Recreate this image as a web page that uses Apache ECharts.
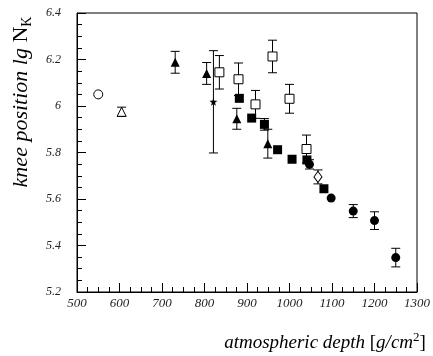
<!DOCTYPE html>
<html><head><meta charset="utf-8">
<script src="https://cdn.jsdelivr.net/npm/echarts@6/dist/echarts.min.js"></script>
<style>html,body{margin:0;padding:0;background:#fff}#c{width:433px;height:356px}</style>
</head><body><div id="c"></div>
<script>
// ---- data ----
const xTickValues = [500, 600, 700, 800, 900, 1000, 1100, 1200, 1300];
const xTickLabels = ['500', '600', '700', '800', '900', '1000', '1100', '1200', '1300'];
const yTickValues = [5.2, 5.4, 5.6, 5.8, 6.0, 6.2, 6.4];
const yTickLabels = ['5.2', '5.4', '5.6', '5.8', '6', '6.2', '6.4'];

const openCircleX = [550];
const openCircleY = [6.05];
const openCircleErr = [0];

const openTriangleX = [605];
const openTriangleY = [5.975];
const openTriangleErr = [0.02];

const filledTriangleX = [731, 805, 876, 949];
const filledTriangleY = [6.188, 6.14, 5.945, 5.838];
const filledTriangleErr = [0.047, 0.047, 0.045, 0.062];

const starX = [821];
const starY = [6.018];
const starErr = [0.22];

const openSquareX = [835, 880, 920, 960, 1000, 1040];
const openSquareY = [6.145, 6.115, 6.007, 6.213, 6.031, 5.815];
const openSquareErr = [0.072, 0.07, 0.06, 0.07, 0.062, 0.06];

const filledSquareX = [882, 911, 941, 972, 1006, 1041, 1081];
const filledSquareY = [6.033, 5.948, 5.921, 5.812, 5.771, 5.768, 5.644];
const filledSquareErr = [0, 0, 0.025, 0, 0, 0, 0];

const openDiamondX = [1067];
const openDiamondY = [5.695];
const openDiamondErr = [0.03];

const filledCircleX = [1047, 1098, 1150, 1200, 1250];
const filledCircleY = [5.749, 5.604, 5.548, 5.507, 5.348];
const filledCircleErr = [0.02, 0, 0.028, 0.038, 0.04];

// ---- build ----
const groups = [
  {x: openCircleX, y: openCircleY, e: openCircleErr, symbol: 'circle', size: 9, open: true},
  {x: openTriangleX, y: openTriangleY, e: openTriangleErr, symbol: 'triangle', size: [9, 9], open: true},
  {x: filledTriangleX, y: filledTriangleY, e: filledTriangleErr, symbol: 'triangle', size: [9, 9], open: false},
  {x: starX, y: starY, e: starErr, symbol: 'path://M0,-10 L2.35,-3.24 L9.51,-3.09 L3.8,1.24 L5.88,8.09 L0,4 L-5.88,8.09 L-3.8,1.24 L-9.51,-3.09 L-2.35,-3.24 Z', size: 8, open: false},
  {x: openSquareX, y: openSquareY, e: openSquareErr, symbol: 'rect', size: 9, open: true},
  {x: filledSquareX, y: filledSquareY, e: filledSquareErr, symbol: 'rect', size: 9, open: false},
  {x: openDiamondX, y: openDiamondY, e: openDiamondErr, symbol: 'diamond', size: [8, 11], open: true},
  {x: filledCircleX, y: filledCircleY, e: filledCircleErr, symbol: 'circle', size: 9, open: false}
];

const errData = [];
groups.forEach(g => g.x.forEach((xv, i) => { if (g.e[i] > 0) errData.push([xv, g.y[i] - g.e[i], g.y[i] + g.e[i]]); }));

const series = [{
  type: 'custom',
  data: errData,
  z: 1,
  silent: true,
  renderItem: function (params, api) {
    const lo = api.coord([api.value(0), api.value(1)]);
    const hi = api.coord([api.value(0), api.value(2)]);
    const w = 4.5;
    const st = {stroke: '#000', lineWidth: 1};
    return {type: 'group', children: [
      {type: 'line', shape: {x1: lo[0], y1: lo[1], x2: hi[0], y2: hi[1]}, style: st},
      {type: 'line', shape: {x1: lo[0] - w, y1: lo[1], x2: lo[0] + w, y2: lo[1]}, style: st},
      {type: 'line', shape: {x1: hi[0] - w, y1: hi[1], x2: hi[0] + w, y2: hi[1]}, style: st}
    ]};
  }
}];
groups.forEach(g => {
  series.push({
    type: 'scatter',
    z: 3,
    symbol: g.symbol,
    symbolSize: g.size,
    data: g.x.map((xv, i) => [xv, g.y[i]]),
    itemStyle: g.open ? {color: '#fff', borderColor: '#000', borderWidth: 1, opacity: 1}
                      : {color: '#000', opacity: 1},
    emphasis: {disabled: true}
  });
});

const font = 'Liberation Serif';
const chart = echarts.init(document.getElementById('c'), null, {renderer: 'canvas'});
chart.setOption({
  animation: false,
  backgroundColor: '#fff',
  grid: {left: 77, right: 13, top: 13, bottom: 64, show: true, borderColor: '#000', borderWidth: 1, backgroundColor: 'transparent'},
  xAxis: {
    type: 'value', min: 500, max: 1300, interval: 100,
    axisLine: {show: true, lineStyle: {color: '#000', width: 1}},
    axisTick: {show: true, inside: true, length: 9, lineStyle: {color: '#000'}},
    minorTick: {show: true, splitNumber: 4, length: 5, lineStyle: {color: '#000'}},
    splitLine: {show: false},
    axisLabel: {margin: 5, color: '#222', fontFamily: font, fontStyle: 'italic', fontSize: 13,
      formatter: v => { const k = xTickValues.findIndex(t => Math.abs(t - v) < 1e-6); return k >= 0 ? xTickLabels[k] : ''; }}
  },
  yAxis: {
    type: 'value', min: 5.2, max: 6.4, interval: 0.2,
    axisLine: {show: true, lineStyle: {color: '#000', width: 1}},
    axisTick: {show: true, inside: true, length: 9, lineStyle: {color: '#000'}},
    minorTick: {show: true, splitNumber: 4, length: 5, lineStyle: {color: '#000'}},
    splitLine: {show: false},
    axisLabel: {margin: 16, color: '#222', fontFamily: font, fontStyle: 'italic', fontSize: 12,
      formatter: v => { const k = yTickValues.findIndex(t => Math.abs(t - v) < 1e-6); return k >= 0 ? yTickLabels[k] : ''; }}
  },
  graphic: [
    {
      type: 'text', x: 21, y: 102, rotation: Math.PI / 2,
      style: {
        text: '{i|knee position lg }{r|N}{s|K}',
        align: 'center', verticalAlign: 'middle', fill: '#000',
        rich: {
          i: {fontFamily: font, fontStyle: 'italic', fontSize: 22, fill: '#000', lineHeight: 26},
          r: {fontFamily: font, fontSize: 22, fill: '#000', lineHeight: 26},
          s: {fontFamily: font, fontSize: 14, fill: '#000', verticalAlign: 'bottom', lineHeight: 14}
        }
      }
    },
    {
      type: 'text', x: 325, y: 343,
      style: {
        text: '{i|atmospheric depth }{r|[}{i|g/cm}{p|2}{r|]}',
        align: 'center', verticalAlign: 'middle', fill: '#000',
        rich: {
          i: {fontFamily: font, fontStyle: 'italic', fontSize: 19, fill: '#000', lineHeight: 24},
          r: {fontFamily: font, fontSize: 19, fill: '#000', lineHeight: 24},
          p: {fontFamily: font, fontSize: 13, fill: '#000', verticalAlign: 'top', lineHeight: 13}
        }
      }
    }
  ],
  series: series
});
</script>
</body></html>
